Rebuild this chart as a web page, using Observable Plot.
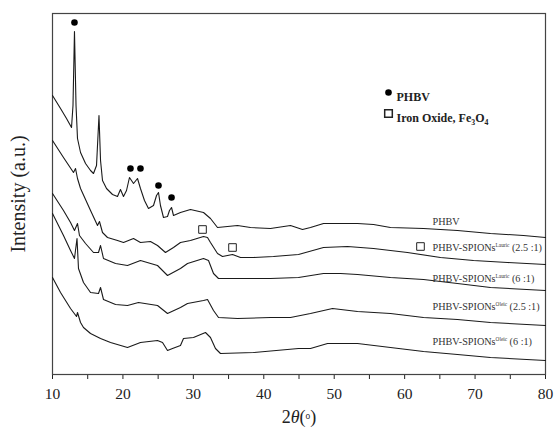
<!DOCTYPE html>
<html><head><meta charset="utf-8">
<script src="https://cdn.jsdelivr.net/npm/d3@7"></script>
<script src="https://cdn.jsdelivr.net/npm/@observablehq/plot@0.6"></script>
<style>
body{margin:0;background:#fff}
#chart svg{display:block}
#chart svg, #chart svg text, #chart svg tspan{font-family:"Liberation Serif", "Times New Roman", serif !important;}
</style>
</head><body><div id="chart"></div>
<script>
// 2θ (degrees) and intensity (a.u., stacked/offset as in the figure)
const tt_PHBV = [10.00,11.14,11.99,12.70,12.91,13.12,13.34,13.55,13.98,14.69,15.40,15.82,16.25,16.60,16.82,17.10,17.67,18.52,19.23,19.65,20.08,20.51,20.93,21.50,22.07,22.49,23.06,23.63,24.34,24.77,25.05,25.33,25.76,26.33,26.61,26.90,27.18,28.17,29.59,31.44,32.43,33.43,36.27,38.11,40.95,43.79,45.50,46.63,48.48,50.89,53.31,55.58,57.99,62.68,67.50,72.19,76.87,80.00];
const int_PHBV = [279,266,256,247,269,343,269,236,222,211,204,201,209,259,214,194,186,180,178,185,178,184,197,191,196,186,174,166,169,179,182,169,157,158,164,167,159,162,165,162,156,147,149,147,146,149,145,147,151,151,151,150,147,146,144,141,139,137];

const tt_L25 = [10.00,11.56,12.98,13.27,13.55,13.98,15.40,16.39,16.67,17.10,17.81,19.23,20.08,21.50,22.49,23.91,24.91,26.04,27.18,28.17,29.59,31.44,32.01,32.43,33.43,34.14,35.56,36.69,38.54,41.37,44.93,48.48,51.89,55.58,60.40,65.09,69.78,74.60,80.00];
const int_L25 = [234,217,202,206,196,186,164,149,153,142,137,134,132,136,132,133,129,122,127,132,134,138,137,132,121,118,120,117,117,118,120,127,128,126,122,117,114,112,110];

const tt_L6 = [10.00,11.56,12.56,13.12,13.55,13.83,14.69,15.82,16.53,16.82,17.24,18.95,20.65,22.49,24.91,26.33,28.17,29.17,31.44,32.15,32.86,33.57,36.27,40.95,44.93,48.48,50.89,53.31,57.99,62.68,67.50,72.19,80.00];
const int_L6 = [181,164,152,144,151,139,131,122,122,129,116,111,109,114,109,99,106,111,116,114,101,96,96,96,97,101,101,100,97,95,91,87,84];

const tt_O25 = [10.00,11.56,12.56,13.12,13.48,13.69,14.40,15.40,16.53,16.82,17.24,18.95,20.65,22.21,24.91,26.33,28.17,29.17,31.44,32.01,32.86,33.57,36.27,40.95,43.79,46.63,49.76,53.31,57.99,62.68,67.50,72.19,80.00];
const int_O25 = [161,139,124,116,136,106,92,82,81,87,75,70,69,72,69,61,67,71,74,75,64,57,56,57,57,61,66,63,61,57,55,52,49];

const tt_O6 = [10.00,11.14,12.56,13.41,13.55,13.98,14.40,15.40,16.82,18.24,20.65,22.49,24.91,25.62,26.33,27.04,28.17,28.60,30.02,31.72,32.43,33.14,33.85,38.54,44.93,46.63,49.05,50.89,53.31,57.99,62.68,67.50,72.19,80.00];
const int_O6 = [97,82,66,58,62,52,47,41,36,32,27,32,34,32,24,26,29,36,37,42,37,26,21,22,26,26,31,31,31,27,23,20,17,14];

const seriesNames = ["PHBV","PHBV-SPIONs{^Lauric} (2.5 :1)","PHBV-SPIONs{^Lauric} (6 :1)","PHBV-SPIONs{^Oleic} (2.5 :1)","PHBV-SPIONs{^Oleic} (6 :1)"];
const seriesTT = [tt_PHBV, tt_L25, tt_L6, tt_O25, tt_O6];
const seriesInt = [int_PHBV, int_L25, int_L6, int_O25, int_O6];
const labelInt = [153, 127, 96, 68, 33];

// reflection markers
const phbvPeakTT = [13.12, 21.07, 22.49, 25.05, 26.90];
const phbvPeakInt = [352, 206, 206, 189, 177];
const ironPeakTT = [31.30, 35.56, 62.25];
const ironPeakInt = [145, 127, 128];

const majorTicks = [10,20,30,40,50,60,70,80];
const minorTicks = [15,25,35,45,55,65,75];
const labelTT = 63.96;
const FONT = "Liberation Serif";

const rows = [];
seriesNames.forEach((s, i) => seriesTT[i].forEach((t, j) => rows.push({s, t, v: seriesInt[i][j]})));
const labels = seriesNames.map((s, i) => ({s, t: labelTT, v: labelInt[i]}));
const phbvPts = phbvPeakTT.map((t, i) => ({t, v: phbvPeakInt[i]}));
const ironPts = ironPeakTT.map((t, i) => ({t, v: ironPeakInt[i]}));

const plot = Plot.plot({
  width: 554, height: 432,
  marginLeft: 52, marginRight: 9, marginTop: 13, marginBottom: 58,
  style: {fontFamily: FONT, fontSize: "15px", color: "#222", background: "#fff"},
  x: {domain: [10, 80]},
  y: {domain: [0, 361], axis: null},
  marks: [
    Plot.axisX({ticks: majorTicks, tickSize: 5, tickPadding: 8, label: null, fontSize: 15.5, fontFamily: FONT}),
    Plot.axisX({ticks: minorTicks, tickSize: 5, tickFormat: () => "", label: null}),
    Plot.frame({stroke: "#444", strokeWidth: 1.2}),
    Plot.line(rows, {x: "t", y: "v", z: "s", stroke: "#1a1a1a", strokeWidth: 1.1}),
    Plot.dot(phbvPts, {x: "t", y: "v", r: 3.3, fill: "#000", stroke: "none"}),
    Plot.dot(ironPts, {x: "t", y: "v", r: 4.3, symbol: "square", fill: "#fff", stroke: "#222", strokeWidth: 1}),
    Plot.text(labels, {x: "t", y: "v", text: "s", textAnchor: "start", fontSize: 10.2, fill: "#333", fontFamily: FONT}),
    // legend
    Plot.dot([0], {frameAnchor: "top-left", dx: 336, dy: 79, r: 3.3, fill: "#000", stroke: "none"}),
    Plot.dot([0], {frameAnchor: "top-left", dx: 336, dy: 100, r: 4.3, symbol: "square", fill: "#fff", stroke: "#222"}),
    Plot.text(["PHBV"], {frameAnchor: "top-left", dx: 344, dy: 79, textAnchor: "start", fontSize: 12, fontWeight: "bold", fontFamily: FONT}),
    Plot.text(["Iron Oxide, Fe{_3}O{_4}"], {frameAnchor: "top-left", dx: 344, dy: 100, textAnchor: "start", fontSize: 12, fontWeight: "bold", fontFamily: FONT}),
    // axis titles
    Plot.text(["2{i:θ}({^o})"], {frameAnchor: "bottom", dy: 48, fontSize: 18, fontFamily: FONT}),
    Plot.text(["Intensity (a.u.)"], {frameAnchor: "left", dx: -34, rotate: -90, textAnchor: "middle", fontSize: 20, fontFamily: FONT})
  ]
});

// rich text: {^sup}, {_sub}, {i:italic}
plot.querySelectorAll("text").forEach(el => {
  const txt = el.textContent;
  if (!txt.includes("{")) return;
  el.textContent = "";
  const re = /\{(i:|\^|_)([^}]*)\}/g;
  let last = 0, m, shift = 0;
  const ns = "http://www.w3.org/2000/svg";
  const add = (str, opts) => {
    const ts = document.createElementNS(ns, "tspan");
    ts.textContent = str;
    let dy = 0;
    if (opts === "^") { ts.setAttribute("font-size", "52%"); dy = -4; }
    else if (opts === "_") { ts.setAttribute("font-size", "65%"); dy = 3; }
    else if (opts === "i:") { ts.setAttribute("font-style", "italic"); }
    const d = dy - shift;
    if (d !== 0) ts.setAttribute("dy", d);
    shift = dy;
    el.appendChild(ts);
  };
  while ((m = re.exec(txt))) {
    if (m.index > last) add(txt.slice(last, m.index), null);
    add(m[2], m[1]);
    last = re.lastIndex;
  }
  if (last < txt.length) add(txt.slice(last), null);
});

document.getElementById("chart").appendChild(plot);
</script>
</body></html>
